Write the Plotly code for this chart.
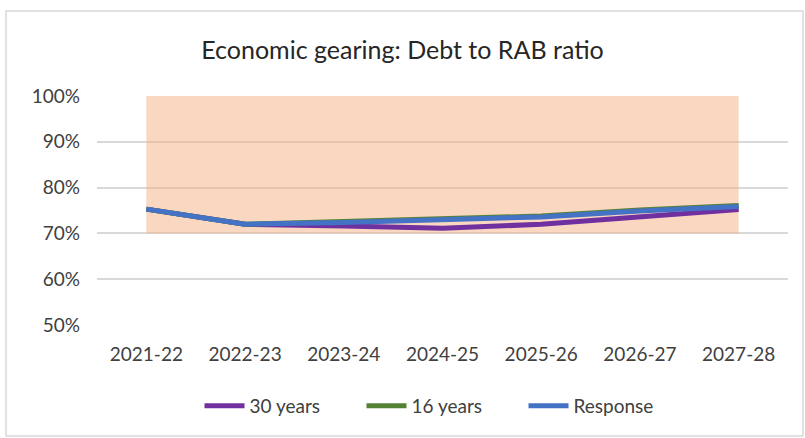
import plotly.graph_objects as go

categories = ["2021-22", "2022-23", "2023-24", "2024-25", "2025-26", "2026-27", "2027-28"]
years30 = [75.3, 72.0, 71.6, 71.1, 72.0, 73.6, 75.2]
years16 = [75.3, 72.0, 72.6, 73.1, 73.8, 75.1, 76.1]
response = [75.3, 72.0, 72.4, 72.9, 73.6, 74.9, 75.9]
band_low = [70] * 7
band_high = [100] * 7
y_ticks = [50, 60, 70, 80, 90, 100]
y_tick_labels = ["50%", "60%", "70%", "80%", "90%", "100%"]

W, H = 805, 438
L, R, T, B = 97, 17, 96, 113
pw, ph = W - L - R, H - T - B

def px_x(p):
    return (p - L) / pw

def px_y(p):
    return (H - B - p) / ph

FONT = "Lato, 'Open Sans', sans-serif"

fig = go.Figure()
fig.add_trace(go.Scatter(x=categories, y=band_low, mode="lines", line=dict(width=0),
                         showlegend=False, hoverinfo="skip"))
fig.add_trace(go.Scatter(x=categories, y=band_high, mode="lines", line=dict(width=0),
                         fill="tonexty", fillcolor="rgba(244,176,132,0.5)",
                         showlegend=False, hoverinfo="skip"))
fig.add_trace(go.Scatter(x=categories, y=years30, mode="lines", name="30 years",
                         line=dict(color="#7030A0", width=5)))
fig.add_trace(go.Scatter(x=categories, y=years16, mode="lines", name="16 years",
                         line=dict(color="#548235", width=5)))
fig.add_trace(go.Scatter(x=categories, y=response, mode="lines", name="Response",
                         line=dict(color="#4472C4", width=5)))

fig.add_shape(type="rect", xref="paper", yref="paper",
              x0=px_x(6), x1=px_x(803), y0=px_y(436), y1=px_y(11),
              line=dict(color="#D9D9D9", width=1.5), fillcolor="rgba(0,0,0,0)", layer="below")

fig.update_layout(
    width=W, height=H,
    margin=dict(l=L, r=R, t=T, b=B),
    paper_bgcolor="white", plot_bgcolor="white",
    font=dict(family=FONT, size=18, color="#404040"),
    title=dict(text="Economic gearing: Debt to RAB ratio", x=0.5, xanchor="center",
               y=1 - 50 / H, yanchor="middle",
               font=dict(family=FONT, size=25, color="#262626")),
    xaxis=dict(type="category", range=[-0.5, 6.5], showgrid=False, showline=False,
               ticks="", ticklabelstandoff=16, tickfont=dict(size=19, color="#404040")),
    yaxis=dict(range=[50, 100], tickvals=y_ticks, ticktext=y_tick_labels,
               showgrid=True, gridcolor="#D9D9D9", gridwidth=1.5, zeroline=False,
               ticks="", ticklabelstandoff=16, tickfont=dict(size=19, color="#404040")),
    legend=dict(orientation="h", x=0.5, xanchor="center", y=px_y(406), yanchor="middle",
                traceorder="normal", entrywidth=107, entrywidthmode="pixels",
                font=dict(size=19, color="#404040"), itemwidth=40, tracegroupgap=0),
    showlegend=True,
)

fig.write_html("out.html")
